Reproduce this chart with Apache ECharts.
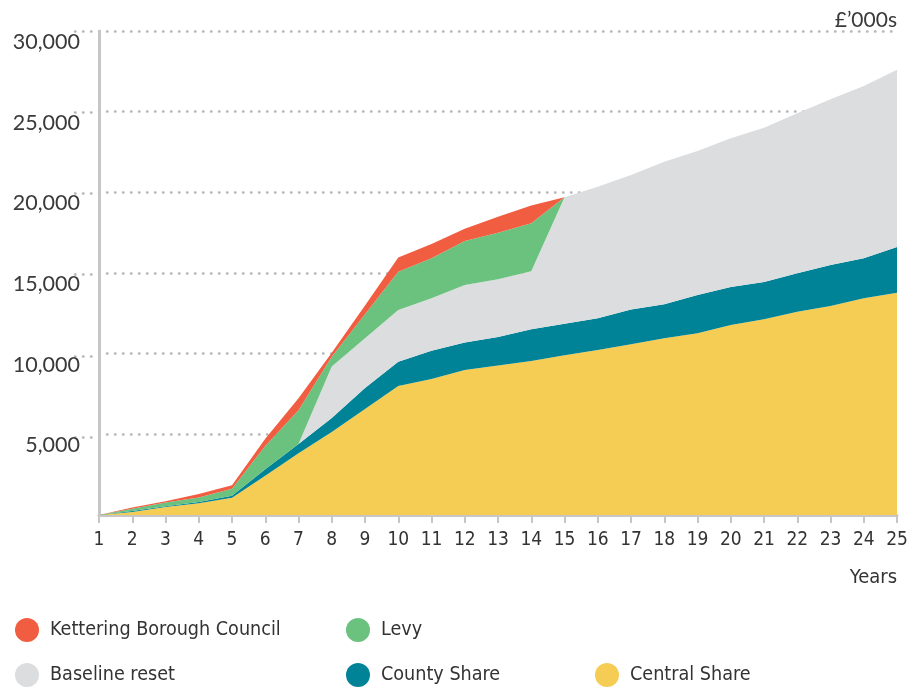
<!DOCTYPE html>
<html>
<head>
<meta charset="utf-8">
<script src="https://cdn.jsdelivr.net/npm/echarts@6/dist/echarts.min.js"></script>
<style>
html,body{margin:0;padding:0;background:#fff;}
#chart{width:914px;height:688px;}
</style>
</head>
<body>
<div id="chart"></div>
<script>
var years = ['1','2','3','4','5','6','7','8','9','10','11','12','13','14','15','16','17','18','19','20','21','22','23','24','25'];
var yTicks = [5000, 10000, 15000, 20000, 25000, 30000];
var centralShare = [0,190,500,730,1070,2430,3820,5150,6570,8000,8430,8990,9270,9550,9900,10230,10580,10950,11260,11780,12130,12600,12950,13430,13780];
var countyShare  = [0,60,50,80,130,400,580,860,1300,1500,1750,1700,1760,1970,1950,1960,2150,2120,2380,2350,2310,2380,2550,2480,2830];
var baselineReset= [0,0,0,0,0,0,0,3200,3080,3200,3250,3560,3580,3590,7850,8160,8340,8830,8920,9220,9570,9920,10270,10680,10990];
var levy         = [0,130,230,270,430,1450,2100,600,1500,2380,2480,2740,2890,2970,0,0,0,0,0,0,0,0,0,0,0];
var kettering    = [0,90,70,220,210,450,730,250,530,880,880,760,990,1100,0,0,0,0,0,0,0,0,0,0,0];

var names = ['Kettering Borough Council','Levy','Baseline reset','County Share','Central Share'];
var colors = {
  'Kettering Borough Council':'#f15d41',
  'Levy':'#6bc27e',
  'Baseline reset':'#dcdddf',
  'County Share':'#008397',
  'Central Share':'#f5cd55'
};
var NARROW = '"Liberation Sans Narrow","DejaVu Sans Condensed","Roboto Condensed",sans-serif';
var WIDE = 'Lato,"Noto Sans",sans-serif';
var dotted = {color:'#b8b8b8', width:2.5, type:[0.5,7.5], cap:'round'};

function areaSeries(name, data){
  return {
    name:name, type:'line', stack:'total', data:data,
    symbol:'none', smooth:false,
    lineStyle:{width:0}, itemStyle:{color:colors[name]},
    areaStyle:{color:colors[name], opacity:1},
    emphasis:{disabled:true}
  };
}

var legendPos = [
  {name:'Kettering Borough Council', left:10, top:613},
  {name:'Levy', left:341, top:613},
  {name:'Baseline reset', left:10, top:658},
  {name:'County Share', left:341, top:658},
  {name:'Central Share', left:590, top:658}
];

var chart = echarts.init(document.getElementById('chart'), null, {renderer:'canvas'});
chart.setOption({
  animation:false,
  color: names.map(function(n){return colors[n];}),
  title:[
    {text:"£’000s", right:12, top:5, textStyle:{fontFamily:WIDE, fontSize:21, fontWeight:'normal', color:'#3a3a3a'}},
    {text:'Years', right:12, top:563, textStyle:{fontFamily:NARROW, fontSize:20, fontWeight:'normal', color:'#333'}}
  ],
  legend: legendPos.map(function(p){
    return {
      data:[{name:p.name, icon:'circle'}], left:p.left, top:p.top,
      itemWidth:24, itemHeight:24, selectedMode:false,
      textStyle:{fontFamily:NARROW, fontSize:19.6, color:'#333', padding:[0,0,0,6]}
    };
  }),
  grid:[
    {left:99, right:17, top:31, bottom:173},
    {left:75, width:24, top:31, bottom:251}
  ],
  xAxis:[
    {
      type:'category', data:years, boundaryGap:false, gridIndex:0,
      axisLine:{show:true, lineStyle:{color:'#c6c6c6', width:3}},
      axisTick:{show:true, alignWithLabel:true, length:8, lineStyle:{color:'#c6c6c6', width:2}},
      axisLabel:{fontFamily:NARROW, fontSize:19, color:'#333', margin:16, interval:0},
      splitLine:{show:false}
    },
    {type:'value', gridIndex:1, min:0, max:1, show:false}
  ],
  yAxis:[
    {
      type:'value', min:0, max:30000, interval:5000, gridIndex:0,
      axisLine:{show:true, lineStyle:{color:'#c6c6c6', width:3}},
      axisTick:{show:false},
      axisLabel:{
        fontFamily:WIDE, fontSize:21.5, color:'#3a3a3a', margin:19,
        verticalAlign:'top', lineHeight:22,
        formatter:function(v){ return v === 0 ? '' : echarts.format.addCommas(v); }
      },
      splitLine:{show:true, lineStyle:dotted}
    },
    {
      type:'value', min:yTicks[0], max:yTicks[yTicks.length-1], interval:5000, gridIndex:1,
      axisLine:{show:false}, axisTick:{show:false}, axisLabel:{show:false},
      splitLine:{show:true, lineStyle:dotted}
    }
  ],
  series:[
    areaSeries('Central Share', centralShare),
    areaSeries('County Share', countyShare),
    areaSeries('Baseline reset', baselineReset),
    areaSeries('Levy', levy),
    areaSeries('Kettering Borough Council', kettering)
  ]
});
</script>
</body>
</html>
